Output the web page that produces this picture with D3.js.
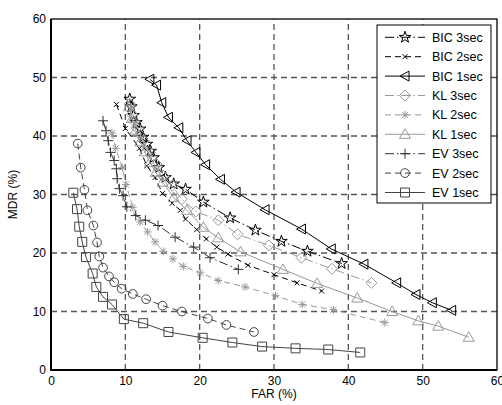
<!DOCTYPE html>
<html><head><meta charset="utf-8">
<script src="https://cdn.jsdelivr.net/npm/d3@7"></script>
<style>body{margin:0;background:#fff}svg{display:block;font-family:"Liberation Sans",Arial,sans-serif}</style>
</head><body><svg id="c" width="502" height="405"></svg>
<script>
const xTicks = [0,10,20,30,40,50,60];
const yTicks = [0,10,20,30,40,50,60];
const seriesNames = ["BIC 3sec","BIC 2sec","BIC 1sec","KL 3sec","KL 2sec","KL 1sec","EV 3sec","EV 2sec","EV 1sec"];
const bic3 = [[10.6,46.3],[10.8,45.0],[11.1,43.5],[11.5,42.3],[12.0,41.2],[12.4,39.8],[12.9,38.6],[13.4,37.4],[13.8,36.3],[14.5,34.6],[15.4,32.9],[16.5,31.8],[18.1,30.9],[20.5,28.7],[24.1,26.0],[27.5,23.9],[31.0,22.0],[34.5,20.3],[39.1,18.2]];
const bic2 = [[8.8,45.4],[10.0,41.3],[11.9,37.9],[12.9,34.9],[14.0,32.9],[15.0,30.2],[16.3,28.5],[17.4,27.3],[18.1,25.8],[19.6,24.0],[20.9,22.4],[22.3,21.0],[23.8,19.8],[26.5,17.9],[30.0,16.3],[33.1,14.9],[36.4,13.5]];
const bic1 = [[13.3,49.7],[14.2,48.7],[14.9,45.7],[15.8,43.2],[17.2,41.4],[18.3,39.2],[19.5,37.2],[20.8,35.1],[22.8,32.6],[24.9,30.4],[28.8,27.4],[33.7,24.1],[37.7,20.7],[42.1,18.1],[46.5,14.9],[49.1,12.9],[51.3,11.5],[53.9,10.2]];
const kl3 = [[10.6,45.5],[10.9,43.7],[11.2,42.5],[11.5,41.4],[12.0,40.2],[12.4,39.2],[13.3,37.2],[14.2,35.2],[15.1,33.2],[16.3,31.5],[17.6,29.2],[19.5,27.1],[22.5,25.6],[25.1,23.2],[29.3,21.3],[33.7,19.2],[37.8,17.3],[43.1,14.9]];
const kl2 = [[8.2,40.5],[8.7,37.9],[9.6,34.6],[10.1,31.7],[11.0,27.8],[12.0,25.3],[13.0,23.6],[14.0,21.9],[15.1,20.3],[16.4,19.0],[17.8,17.7],[20.1,16.6],[22.5,15.3],[26.1,14.2],[30.2,12.7],[33.8,11.2],[38.0,10.3],[44.9,8.1]];
const kl1 = [[10.5,45.0],[10.9,43.0],[11.4,41.0],[12.0,39.0],[12.6,37.3],[13.3,35.5],[14.1,33.8],[15.0,32.1],[16.5,29.5],[18.3,27.3],[20.5,24.4],[22.5,22.6],[25.5,20.2],[31.2,17.2],[35.8,14.8],[41.2,12.3],[45.9,10.0],[49.4,8.4],[52.1,7.5],[56.2,5.6]];
const ev3 = [[7.0,42.6],[7.4,40.9],[7.7,39.2],[8.0,37.2],[8.5,35.8],[8.8,34.4],[8.9,32.7],[9.2,31.0],[9.7,29.8],[10.2,27.9],[11.4,26.4],[12.7,25.6],[14.4,24.7],[16.7,22.7],[19.2,21.0],[21.4,19.2],[25.2,17.2]];
const ev2 = [[3.6,38.7],[4.0,34.6],[4.5,30.8],[4.9,27.3],[5.7,24.7],[6.2,21.8],[6.5,19.4],[7.0,17.5],[7.8,16.0],[8.5,15.0],[9.5,13.9],[11.0,13.0],[12.8,12.1],[15.0,11.0],[17.6,10.0],[21.1,8.8],[23.6,7.7],[27.3,6.5]];
const ev1 = [[3.0,30.3],[3.5,27.5],[3.8,24.5],[4.2,21.9],[4.7,19.3],[5.6,16.5],[6.1,14.2],[7.0,12.5],[8.2,11.2],[9.8,8.7],[12.4,8.0],[15.8,6.5],[20.4,5.5],[24.4,4.7],[28.4,4.0],[32.9,3.7],[37.3,3.5],[41.6,3.0]];

const seriesData = [bic3,bic2,bic1,kl3,kl2,kl1,ev3,ev2,ev1];
const styles = [
  {color:"#000", dash:"9,3,1.5,3", marker:"star"},
  {color:"#000", dash:"6,4", marker:"x"},
  {color:"#000", dash:null, marker:"tleft"},
  {color:"#999", dash:"9,3,1.5,3", marker:"diamond"},
  {color:"#999", dash:"6,4", marker:"ast"},
  {color:"#999", dash:null, marker:"tup"},
  {color:"#333", dash:"9,3,1.5,3", marker:"plus"},
  {color:"#444", dash:"6,4", marker:"circle"},
  {color:"#444", dash:null, marker:"square"}
];

const svg = d3.select("#c");
const L=51,R=497,T=19,B=370;
const x = d3.scaleLinear().domain([0,60]).range([L,R]);
const y = d3.scaleLinear().domain([0,60]).range([B,T]);

const g = svg.append("g");
g.selectAll(".vg").data(xTicks.slice(1,-1)).join("line")
  .attr("x1",d=>x(d)).attr("x2",d=>x(d)).attr("y1",B).attr("y2",T)
  .attr("stroke","#555").attr("stroke-width",1.3).attr("stroke-dasharray","6,4");
g.selectAll(".hg").data(yTicks.slice(1,-1)).join("line")
  .attr("y1",d=>y(d)).attr("y2",d=>y(d)).attr("x1",L).attr("x2",R)
  .attr("stroke","#555").attr("stroke-width",1.3).attr("stroke-dasharray","6,4");

function markerPath(type){
  switch(type){
    case "star": return d3.symbol(d3.symbolStar,42)();
    case "x": return "M-2.5,-2.5L2.5,2.5M-2.5,2.5L2.5,-2.5";
    case "plus": return "M-5,0L5,0M0,-5L0,5";
    case "ast": return "M-4,0L4,0M0,-4L0,4M-3,-3L3,3M-3,3L3,-3";
    case "tleft": return "M-5,0L4,-5L4,5Z";
    case "tup": return "M0,-5.5L5.5,4L-5.5,4Z";
    case "diamond": return "M0,-5.5L5.5,0L0,5.5L-5.5,0Z";
    case "circle": return d3.symbol(d3.symbolCircle,60)();
    case "square": return "M-4.5,-4.5L4.5,-4.5L4.5,4.5L-4.5,4.5Z";
  }
}

const line = d3.line().x(d=>x(d[0])).y(d=>y(d[1]));
seriesData.forEach((data,i)=>{
  const s = styles[i];
  const gs = svg.append("g");
  gs.append("path").attr("d",line(data)).attr("fill","none")
    .attr("stroke",s.color).attr("stroke-width",1)
    .attr("stroke-dasharray",s.dash);
  gs.selectAll("path.m").data(data).join("path").attr("class","m")
    .attr("d",markerPath(s.marker))
    .attr("transform",d=>`translate(${x(d[0])},${y(d[1])})`)
    .attr("fill","none").attr("stroke",s.color).attr("stroke-width",1);
});

svg.append("rect").attr("x",L).attr("y",T).attr("width",R-L).attr("height",B-T)
  .attr("fill","none").attr("stroke","#000").attr("stroke-width",1.3);
svg.append("path").attr("d",`M${L},${T}V${B}H${R}`).attr("fill","none")
  .attr("stroke","#000").attr("stroke-width",2);

const xa = svg.append("g").attr("transform",`translate(0,${B})`)
  .call(d3.axisBottom(x).tickValues(xTicks).tickSize(0).tickPadding(6));
xa.select(".domain").remove();
xa.selectAll("text").attr("font-size",12).attr("font-family","Liberation Sans, Arial, sans-serif").attr("fill","#000");
const ya = svg.append("g").attr("transform",`translate(${L},0)`)
  .call(d3.axisLeft(y).tickValues(yTicks).tickSize(0).tickPadding(5));
ya.select(".domain").remove();
ya.selectAll("text").attr("font-size",12).attr("font-family","Liberation Sans, Arial, sans-serif").attr("fill","#000");

svg.append("text").attr("x",(L+R)/2).attr("y",398).attr("text-anchor","middle")
  .attr("font-size",12).text("FAR (%)");
svg.append("text").attr("transform",`translate(17,${(T+B)/2}) rotate(-90)`)
  .attr("text-anchor","middle").attr("font-size",12).text("MDR (%)");

const lg = svg.append("g");
lg.append("rect").attr("x",377).attr("y",25).attr("width",114).attr("height",178)
  .attr("fill","#fff").attr("stroke","#000").attr("stroke-width",1);
seriesNames.forEach((name,i)=>{
  const s = styles[i];
  const yy = 37.3 + i*19.4;
  lg.append("line").attr("x1",385).attr("x2",425).attr("y1",yy).attr("y2",yy)
    .attr("stroke",s.color).attr("stroke-width",1).attr("stroke-dasharray",s.dash);
  lg.append("path").attr("d",markerPath(s.marker)).attr("transform",`translate(405,${yy})`)
    .attr("fill","none").attr("stroke",s.color).attr("stroke-width",1);
  lg.append("text").attr("x",432).attr("y",yy+4.5).attr("font-size",12.5).text(name);
});
</script></body></html>
